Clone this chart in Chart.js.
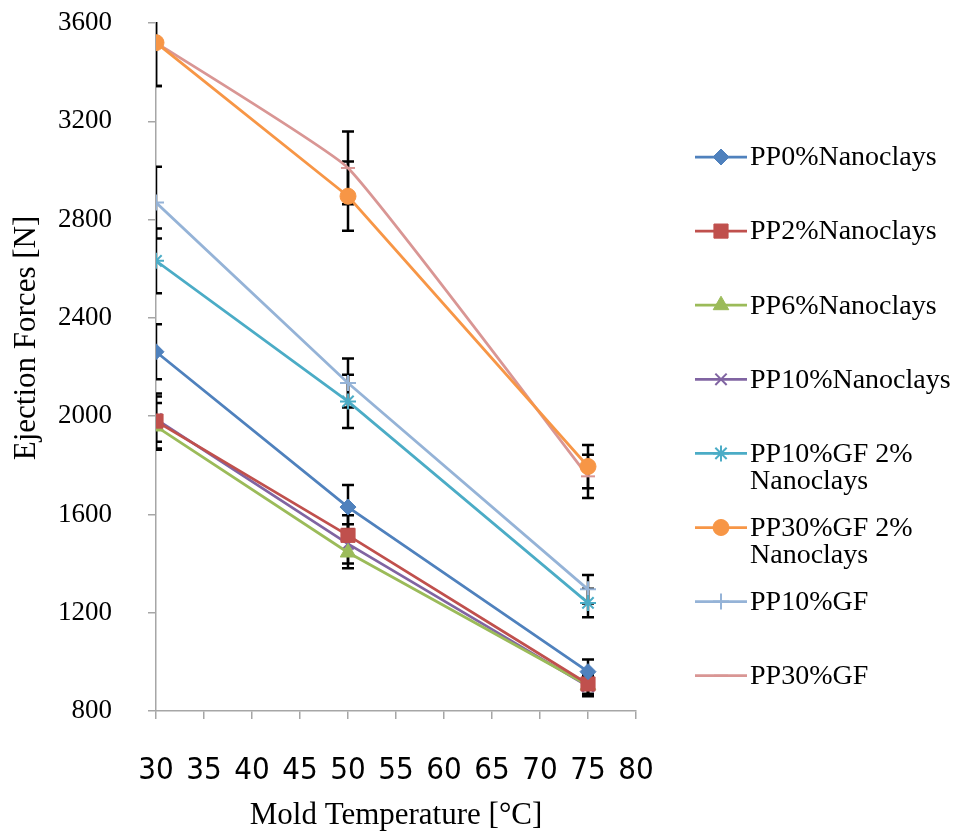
<!DOCTYPE html>
<html>
<head>
<meta charset="utf-8">
<title>Ejection Forces vs Mold Temperature</title>
<script src="https://cdn.jsdelivr.net/npm/chart.js@4.4.1/dist/chart.umd.min.js"></script>
<style>
  html, body { margin: 0; padding: 0; background: #fff; }
  #wrap { width: 953px; height: 834px; position: relative; }
</style>
</head>
<body>
<div id="wrap"><canvas id="chart" width="953" height="834"></canvas></div>
<script>
/* Ejection force vs mold temperature, one line per compound, with +/- error bars. */
'use strict';

var temps = [30, 50, 75];
var xTicks = [30, 35, 40, 45, 50, 55, 60, 65, 70, 75, 80];
var yTicks = [800, 1200, 1600, 2000, 2400, 2800, 3200, 3600];

var seriesNames = [
  'PP0%Nanoclays',
  'PP2%Nanoclays',
  'PP6%Nanoclays',
  'PP10%Nanoclays',
  'PP10%GF 2%\nNanoclays',
  'PP30%GF 2%\nNanoclays',
  'PP10%GF',
  'PP30%GF'
];

var pp0 = [2262, 1630, 960];
var pp2 = [1980, 1515, 910];
var pp6 = [1958, 1445, 905];
var pp10 = [1988, 1480, 900];
var pp10gf2 = [2632, 2060, 1240];
var pp30gf2 = [3520, 2895, 1795];
var pp10gf = [2869, 2135, 1295];
var pp30gf = [3520, 3010, 1755];

var pp0Err = [112, 90, 50];
var pp2Err = [112, 82, 40];
var pp6Err = [95, 64, 38];
var pp10Err = [92, 80, 40];
var pp10gf2Err = [132, 108, 58];
var pp30gf2Err = [176, 141, 88];
var pp10gfErr = [146, 100, 58];
var pp30gfErr = [176, 148, 88];

var values = [pp0, pp2, pp6, pp10, pp10gf2, pp30gf2, pp10gf, pp30gf];
var errors = [pp0Err, pp2Err, pp6Err, pp10Err, pp10gf2Err, pp30gf2Err, pp10gfErr, pp30gfErr];

var colors = ['#4F81BD', '#C0504D', '#9BBB59', '#8064A2', '#4BACC6', '#F79646', '#95B3D7', '#D99694'];
var markers = ['rectRot', 'rect', 'triangle', 'crossRot', 'star', 'circle', 'cross', 'line'];
var markerSize = [8, 10, 9, 8, 8, 8, 8, 7];

var SERIF = '"Liberation Serif", "Times New Roman", serif';
var NARROW = '"Liberation Sans Narrow", "DejaVu Sans Condensed", "Liberation Sans", sans-serif';

function thinMarker(style) {
  return style === 'line' || style === 'star' || style.indexOf('cross') === 0;
}

function buildDatasets() {
  return values.map(function (vals, i) {
    return {
      label: seriesNames[i],
      data: vals.map(function (v, j) { return { x: temps[j], y: v }; }),
      errors: errors[i],
      borderColor: colors[i],
      backgroundColor: colors[i],
      pointBorderColor: colors[i],
      pointBackgroundColor: colors[i],
      pointStyle: markers[i],
      pointRadius: markerSize[i],
      pointBorderWidth: thinMarker(markers[i]) ? 2 : 1,
      borderWidth: 2.75,
      tension: i === 7 ? 0.12 : 0,
      fill: false
    };
  });
}

/* black error bars with caps, drawn under the markers */
var errorBars = {
  id: 'errorBars',
  beforeDatasetsDraw: function (chart) {
    var ctx = chart.ctx, area = chart.chartArea;
    var ys = chart.scales.y;
    ctx.save();
    ctx.beginPath();
    ctx.rect(area.left, area.top - 1, area.right - area.left, area.bottom - area.top + 2);
    ctx.clip();
    ctx.strokeStyle = '#000';
    ctx.lineWidth = 2.5;
    chart.data.datasets.forEach(function (ds, i) {
      var meta = chart.getDatasetMeta(i);
      meta.data.forEach(function (pt, j) {
        var v = ds.data[j].y, e = ds.errors[j];
        var top = ys.getPixelForValue(v + e), bot = ys.getPixelForValue(v - e);
        var x = Math.round(pt.x);
        ctx.beginPath();
        ctx.moveTo(x, top); ctx.lineTo(x, bot);
        ctx.moveTo(x - 6, top); ctx.lineTo(x + 6, top);
        ctx.moveTo(x - 6, bot); ctx.lineTo(x + 6, bot);
        ctx.stroke();
      });
    });
    ctx.restore();
  }
};

/* legend on the right: short line with the series marker, then the name;
   also the rotated y title, which sits a little above the plot middle */
var sideLegend = {
  id: 'sideLegend',
  afterDraw: function (chart) {
    var ctx = chart.ctx;
    var x0 = 695, x1 = 747, y0 = 157, step = 74.1;
    ctx.save();
    ctx.font = '28px ' + SERIF;
    ctx.textBaseline = 'middle';
    chart.data.datasets.forEach(function (ds, i) {
      var y = y0 + i * step;
      ctx.strokeStyle = ds.borderColor;
      ctx.lineWidth = 2.75;
      ctx.beginPath();
      ctx.moveTo(x0, y); ctx.lineTo(x1, y);
      ctx.stroke();
      ctx.fillStyle = ds.pointBackgroundColor;
      ctx.strokeStyle = ds.pointBorderColor;
      ctx.lineWidth = ds.pointBorderWidth;
      Chart.helpers.drawPoint(ctx, {
        pointStyle: ds.pointStyle, radius: ds.pointRadius, rotation: 0, borderWidth: ds.pointBorderWidth
      }, (x0 + x1) / 2, y);
      ctx.fillStyle = '#000';
      String(ds.label).split('\n').forEach(function (line, k) {
        ctx.fillText(line, 750, y + 1 + k * 27);
      });
    });

    ctx.font = '31px ' + SERIF;
    ctx.textAlign = 'center';
    ctx.translate(27, 338);
    ctx.rotate(-Math.PI / 2);
    ctx.fillText('Ejection Forces [N]', 0, 0);
    ctx.restore();
  }
};

new Chart(document.getElementById('chart').getContext('2d'), {
  type: 'line',
  data: { datasets: buildDatasets() },
  plugins: [errorBars, sideLegend],
  options: {
    responsive: false,
    animation: false,
    layout: { padding: { left: 0, top: 23, right: 317, bottom: 0 } },
    plugins: { legend: { display: false }, tooltip: { enabled: false } },
    scales: {
      x: {
        type: 'linear',
        min: 30, max: 80,
        afterBuildTicks: function (s) { s.ticks = xTicks.map(function (v) { return { value: v }; }); },
        afterFit: function (s) { s.height = 123; s.paddingLeft = 0; s.paddingRight = 0; },
        border: { color: '#A6A6A6', width: 1.5 },
        grid: { drawOnChartArea: false, drawTicks: true, tickLength: 8, color: '#A6A6A6', lineWidth: 1.5 },
        ticks: { color: '#000', padding: 33, maxRotation: 0, font: { family: NARROW, size: 31 } },
        title: { display: true, text: 'Mold Temperature [°C]', color: '#000', padding: { top: 8, bottom: 0 }, font: { family: SERIF, size: 31 } }
      },
      y: {
        type: 'linear',
        min: 800, max: 3600,
        afterBuildTicks: function (s) { s.ticks = yTicks.map(function (v) { return { value: v }; }); },
        afterFit: function (s) { s.width = 156; s.paddingTop = 0; s.paddingBottom = 0; },
        border: { color: '#A6A6A6', width: 1.5 },
        grid: { drawOnChartArea: false, drawTicks: true, tickLength: 8, color: '#A6A6A6', lineWidth: 1.5 },
        ticks: {
          color: '#000', padding: 36, font: { family: SERIF, size: 27 },
          callback: function (v) { return String(v); }
        }
      }
    }
  }
});
</script>
</body>
</html>
